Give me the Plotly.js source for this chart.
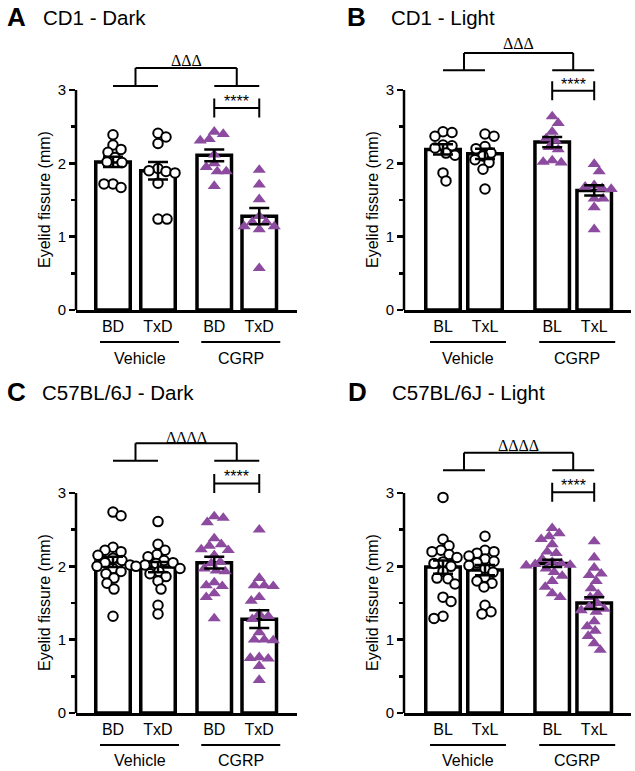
<!DOCTYPE html>
<html><head><meta charset="utf-8">
<script src="https://cdn.plot.ly/plotly-3.0.1.min.js"></script>
<style>html,body{margin:0;padding:0;background:#fff}</style></head>
<body><div id="chart" style="width:635px;height:771px"></div>
<script>
// ---------------- DATA ----------------
const panelLetters = ['A', 'B', 'C', 'D'];
const panelTitles = ['CD1 - Dark', 'CD1 - Light', 'C57BL/6J - Dark', 'C57BL/6J - Light'];
const ticksDark = ['BD', 'TxD', 'BD', 'TxD'];
const ticksLight = ['BL', 'TxL', 'BL', 'TxL'];
const groupNames = ['Vehicle', 'CGRP'];
const yTitle = 'Eyelid fissure (mm)';
const yTickVals = [0, 1, 2, 3];
const yMinorVals = [0.5, 1.5, 2.5];
const groupSig = ['ΔΔΔ', 'ΔΔΔ', 'ΔΔΔΔ', 'ΔΔΔΔ'];
const pairSig = ['****', '****', '****', '****'];

// Panel A: CD1 - Dark
const meanA = [2.02, 1.90, 2.11, 1.28];
const semA = [0.07, 0.12, 0.08, 0.11];
const vehBD_A = [2.39, 2.25, 2.19, 2.15, 2.08, 2.02, 2.01, 1.72, 1.67, 1.72];
const vehTxD_A = [2.41, 2.36, 2.27, 1.93, 1.90, 1.89, 1.87, 1.73, 1.24, 1.24];
const cgrpBD_A = [2.43, 2.40, 2.33, 2.31, 2.12, 2.00, 1.95, 1.89, 1.89, 1.69];
const cgrpTxD_A = [1.91, 1.71, 1.51, 1.28, 1.20, 1.20, 1.14, 1.14, 1.10, 0.57];

// Panel B: CD1 - Light
const meanB = [2.19, 2.13, 2.29, 1.63];
const semB = [0.07, 0.07, 0.07, 0.07];
const vehBL_B = [2.43, 2.42, 2.37, 2.25, 2.24, 2.21, 2.14, 2.11, 1.87, 1.76];
const vehTxL_B = [2.40, 2.37, 2.23, 2.20, 2.14, 2.10, 2.05, 2.01, 1.92, 1.65];
const cgrpBL_B = [2.64, 2.55, 2.43, 2.34, 2.31, 2.22, 2.19, 2.04, 2.02, 2.01];
const cgrpTxL_B = [1.99, 1.89, 1.70, 1.68, 1.66, 1.65, 1.52, 1.52, 1.40, 1.10];

// Panel C: C57BL/6J - Dark
const meanC = [2.06, 1.99, 2.05, 1.28];
const semC = [0.07, 0.07, 0.08, 0.12];
const vehBD_C = [2.74, 2.69, 2.26, 2.22, 2.20, 2.15, 2.11, 2.08, 2.05, 2.02, 2.00, 1.97, 1.93, 1.90, 1.84, 1.77, 1.69, 1.32];
const vehTxD_C = [2.61, 2.30, 2.22, 2.16, 2.13, 2.08, 2.05, 2.04, 2.02, 2.00, 1.97, 1.93, 1.90, 1.86, 1.80, 1.69, 1.47, 1.35];
const cgrpBD_C = [2.68, 2.66, 2.60, 2.38, 2.30, 2.28, 2.23, 2.22, 2.15, 2.06, 2.04, 1.97, 1.94, 1.93, 1.78, 1.74, 1.73, 1.63, 1.58, 1.29];
const cgrpTxD_C = [2.50, 1.84, 1.74, 1.74, 1.73, 1.58, 1.53, 1.35, 1.32, 1.28, 1.10, 1.00, 1.00, 0.99, 0.76, 0.75, 0.74, 0.64, 0.45];

// Panel D: C57BL/6J - Light
const meanD = [1.99, 1.95, 2.04, 1.50];
const semD = [0.09, 0.07, 0.05, 0.08];
const vehBL_D = [2.94, 2.37, 2.28, 2.22, 2.20, 2.16, 2.12, 2.06, 2.04, 2.00, 1.93, 1.84, 1.83, 1.76, 1.58, 1.52, 1.32, 1.29];
const vehTxL_D = [2.41, 2.22, 2.20, 2.18, 2.14, 2.10, 2.07, 2.05, 2.01, 1.97, 1.92, 1.85, 1.80, 1.77, 1.72, 1.47, 1.38, 1.35];
const cgrpBL_D = [2.52, 2.45, 2.41, 2.37, 2.30, 2.20, 2.18, 2.10, 2.06, 2.04, 2.03, 2.02, 2.01, 1.97, 1.92, 1.87, 1.80, 1.72, 1.63, 1.58];
const cgrpTxL_D = [2.34, 2.12, 1.98, 1.90, 1.88, 1.80, 1.70, 1.62, 1.58, 1.50, 1.45, 1.42, 1.40, 1.38, 1.25, 1.18, 1.12, 1.05, 0.95, 0.86];

// ---------------- LAYOUT GEOMETRY (pixels) ----------------
const W = 635, H = 771, PPU = 73.33, YTOP = 3.8;
const FONT = 'Arial, "Liberation Sans", Helvetica, sans-serif';
const SERIF = '"Liberation Serif", "DejaVu Serif", serif';
const PURPLE = '#8c4b9f';

const geo = [
  {xpx: [76, 297], c0: 113, upx: 45, pos: [1, 2, 3.25, 4.25], y0: 310, letterX: 16, titleX: 41, headY: 17, ytX: 44,
   ulY: 342, glY: 358, br: {dText: 3.40, top: 3.30, leg: 3.055, line: 2.755, star: 2.89}},
  {xpx: [404, 631], c0: 443, upx: 42, pos: [1, 2, 3.6, 4.6], y0: 310, letterX: 356, titleX: 389, headY: 17, ytX: 372,
   ulY: 342, glY: 358, br: {dText: 3.64, top: 3.505, leg: 3.27, line: 2.99, star: 3.11}},
  {xpx: [76, 297], c0: 113, upx: 45, pos: [1, 2, 3.25, 4.25], y0: 713, letterX: 16, titleX: 40, headY: 392, ytX: 44,
   ulY: 745, glY: 760, br: {dText: 3.76, top: 3.68, leg: 3.44, line: 3.13, star: 3.27}},
  {xpx: [404, 631], c0: 443, upx: 42, pos: [1, 2, 3.6, 4.6], y0: 713, letterX: 357, titleX: 390, headY: 392, ytX: 372,
   ulY: 745, glY: 760, br: {dText: 3.65, top: 3.55, leg: 3.31, line: 3.01, star: 3.15}}
];

const panelData = [
  {means: meanA, sem: semA, pts: [vehBD_A, vehTxD_A, cgrpBD_A, cgrpTxD_A], ticks: ticksDark},
  {means: meanB, sem: semB, pts: [vehBL_B, vehTxL_B, cgrpBL_B, cgrpTxL_B], ticks: ticksLight},
  {means: meanC, sem: semC, pts: [vehBD_C, vehTxD_C, cgrpBD_C, cgrpTxD_C], ticks: ticksDark},
  {means: meanD, sem: semD, pts: [vehBL_D, vehTxL_D, cgrpBL_D, cgrpTxL_D], ticks: ticksLight}
];

// beeswarm offsets in pixels (minimum centre distance d)
function swarm(vals, d) {
  const order = vals.map((v, i) => i).sort((a, b) => vals[b] - vals[a]);
  const placed = []; const off = new Array(vals.length);
  let flip = 1;
  for (const i of order) {
    const y = vals[i] * PPU;
    let best = null;
    for (let k = 0; k < 60 && best === null; k++) {
      const cands = k === 0 ? [0] : [flip * k, -flip * k];
      for (const c of cands) {
        if (placed.every(p => (p.x - c) ** 2 + (p.y - y) ** 2 >= d * d)) { best = c; break; }
      }
    }
    if (best !== 0) flip = -flip;
    placed.push({x: best, y}); off[i] = best;
  }
  return off;
}

const traces = [], shapes = [], annotations = [];
const layout = {
  width: W, height: H, margin: {l: 0, r: 0, t: 0, b: 0},
  paper_bgcolor: '#fff', plot_bgcolor: 'rgba(0,0,0,0)', showlegend: false,
  font: {family: FONT, color: '#000'}
};

geo.forEach((g, p) => {
  const sfx = p === 0 ? '' : String(p + 1);
  const xa = 'x' + sfx, ya = 'y' + sfx;
  const d = panelData[p];
  const pos = g.pos;
  const xr = [pos[0] + (g.xpx[0] - g.c0) / g.upx, pos[0] + (g.xpx[1] - g.c0) / g.upx];
  const yd = [(H - g.y0) / H, (H - (g.y0 - YTOP * PPU)) / H];

  layout['xaxis' + sfx] = {
    domain: [g.xpx[0] / W, g.xpx[1] / W], range: xr, anchor: ya, automargin: false,
    showgrid: false, zeroline: false, showline: true, linecolor: '#000', linewidth: 3,
    ticks: '', tickvals: pos, ticktext: d.ticks, tickfont: {size: 16, family: FONT, color: '#000'},
    ticklabelstandoff: 0, fixedrange: true
  };
  layout['yaxis' + sfx] = {
    domain: yd, range: [0, YTOP], anchor: xa, automargin: false,
    showgrid: false, zeroline: false, showline: false,
    ticks: 'outside', ticklen: 6, tickwidth: 2.5, tickcolor: '#000',
    tickvals: yTickVals, ticktext: yTickVals.map(String), tickfont: {size: 15, family: FONT, color: '#000'},
    minor: {tickvals: yMinorVals, ticks: 'outside', ticklen: 4, tickwidth: 2.5, tickcolor: '#000'},
    fixedrange: true
  };

  // bars
  const lw = 3.5;
  traces.push({
    type: 'bar', x: pos, y: d.means, xaxis: xa, yaxis: ya,
    width: (38 - lw) / g.upx, marker: {color: '#fff', line: {color: '#000', width: lw}},
    hoverinfo: 'skip'
  });
  // points
  [0, 1].forEach(grp => {
    const xs = [], ys = [];
    [grp * 2, grp * 2 + 1].forEach(b => {
      const vals = d.pts[b];
      const off = swarm(vals, 8.5);
      vals.forEach((v, i) => { xs.push(pos[b] + off[i] / g.upx); ys.push(v); });
    });
    traces.push({
      type: 'scatter', mode: 'markers', x: xs, y: ys, xaxis: xa, yaxis: ya, cliponaxis: false,
      marker: grp === 0
        ? {symbol: 'circle', size: 9.5, color: '#fff', line: {color: '#000', width: 2}}
        : {symbol: 'triangle-up', size: 11.5, color: PURPLE, line: {width: 0}},
      hoverinfo: 'skip'
    });
  });
  // error bars (mean ± SEM)
  traces.push({
    type: 'scatter', mode: 'markers', x: pos, y: d.means, xaxis: xa, yaxis: ya,
    marker: {size: 1, color: 'rgba(0,0,0,0)'},
    error_y: {type: 'data', array: d.sem, visible: true, color: '#000', thickness: 2.5, width: 10},
    hoverinfo: 'skip'
  });

  // y axis line (0..3)
  shapes.push({type: 'line', xref: xa + ' domain', yref: ya, x0: 0, x1: 0, y0: 0, y1: 3,
    line: {color: '#000', width: 2.5}});
  // y axis title, centred on the 0..3 span
  annotations.push({xref: 'paper', yref: ya, x: g.ytX / W, y: 1.5, text: yTitle, textangle: -90, showarrow: false,
    xanchor: 'center', yanchor: 'middle', font: {family: FONT, size: 16, color: '#000'}});

  // brackets
  const b = g.br;
  const lm = (pos[0] + pos[1]) / 2, rm = (pos[2] + pos[3]) / 2;
  const L = (x0, y0, x1, y1) => shapes.push({type: 'line', xref: xa, yref: ya, x0, y0, x1, y1,
    line: {color: '#000', width: 2}});
  L(lm, b.top, rm, b.top); L(lm, b.top, lm, b.leg); L(rm, b.top, rm, b.leg);
  L(pos[0], b.leg, pos[1], b.leg); L(pos[2], b.leg, pos[3], b.leg);
  L(pos[2], b.line, pos[3], b.line);
  L(pos[2], b.line - 0.13, pos[2], b.line + 0.13); L(pos[3], b.line - 0.13, pos[3], b.line + 0.13);
  annotations.push({xref: xa, yref: ya, x: (lm + rm) / 2, y: b.dText, text: groupSig[p], showarrow: false,
    xanchor: 'center', yanchor: 'middle', font: {family: SERIF, size: 16, color: '#000'}});
  annotations.push({xref: xa, yref: ya, x: rm, y: b.star, text: pairSig[p], showarrow: false,
    xanchor: 'center', yanchor: 'middle', yshift: -3, font: {family: FONT, size: 16, color: '#000'}});

  // group underlines and labels
  const ulY = (H - g.ulY) / H, glY = (H - g.glY) / H;
  [[pos[0], pos[1]], [pos[2], pos[3]]].forEach((pr, gi) => {
    const x0 = pr[0] - 13 / g.upx, x1 = pr[1] + 21 / g.upx;
    shapes.push({type: 'line', xref: xa, yref: 'paper', x0, x1, y0: ulY, y1: ulY, line: {color: '#000', width: 2}});
    annotations.push({xref: xa, yref: 'paper', x: (x0 + x1) / 2, y: glY, text: groupNames[gi], showarrow: false,
      xanchor: 'center', yanchor: 'middle', font: {family: FONT, size: 16, color: '#000'}});
  });

  // panel letter and title
  annotations.push({xref: 'paper', yref: 'paper', x: g.letterX / W, y: (H - g.headY) / H, text: '<b>' + panelLetters[p] + '</b>',
    showarrow: false, xanchor: 'center', yanchor: 'middle', font: {family: FONT, size: 26, color: '#000'}});
  annotations.push({xref: 'paper', yref: 'paper', x: g.titleX / W, y: (H - g.headY) / H, text: panelTitles[p],
    showarrow: false, xanchor: 'left', yanchor: 'middle', font: {family: FONT, size: 20.5, color: '#000'}});
});

layout.shapes = shapes;
layout.annotations = annotations;
Plotly.newPlot('chart', traces, layout, {staticPlot: true, displayModeBar: false});
</script></body></html>
